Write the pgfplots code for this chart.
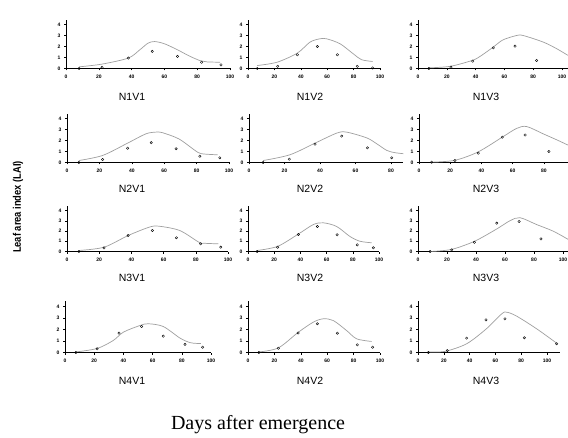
\documentclass[border=0pt]{standalone}
\usepackage{fontspec}
\setmainfont{Liberation Sans}
\newfontfamily\seriffont{Liberation Serif}
\usepackage{graphicx}
\usepackage{pgfplots}
\pgfplotsset{compat=1.18}

\pgfplotsset{
  panel/.style={
    axis lines=left, axis line style={-, line width=0.6pt},
    anchor=south west,
    xmin=0, ymin=0, ymax=4.45,
    ytick={0,1,2,3,4}, xtick={0,20,...,100},
    tick align=outside, major tick length=2pt,
    tick style={line width=0.5pt, black},
    ticklabel style={font=\fontsize{5}{5}\selectfont\bfseries},
    xticklabel style={yshift=-1pt},
    /pgf/number format/assume math mode=true,
  },
  fit/.style={draw=gray!75, line width=0.7pt, smooth, tension=0.5, no markers},
  obs/.style={only marks, mark=o, mark size=1.2pt, black, mark options={line width=0.4pt}},
}

\begin{document}
\begin{tikzpicture}
\useasboundingbox (0pt,0pt) rectangle (568pt,437pt);

% row 1
\begin{axis}[panel, at={(66pt,368.5pt)}, x=1.64pt, y=11pt, xmax=100]
\addplot[fit] coordinates {(8,0.15)(22,0.4)(38,0.95)(45,1.7)(50,2.3)(54,2.45)(60,2.25)(68,1.7)(75,1.15)(82,0.7)(86,0.6)(94,0.57)};
\addplot[obs] coordinates {(8,0)(22,0.1)(38,0.95)(52.6,1.55)(68,1.1)(82.7,0.57)(94.5,0.33)};
\end{axis}
\begin{axis}[panel, at={(248pt,368.5pt)}, x=1.32pt, y=11pt, xmax=100]
\addplot[fit] coordinates {(7,0.27)(22,0.57)(37.4,1.4)(47,2.4)(54.5,2.7)(59.5,2.7)(69.7,2.25)(79.8,1.33)(86,0.8)(94.4,0.64)};
\addplot[obs] coordinates {(7,0)(22.5,0.2)(37.4,1.25)(52.5,2.0)(67.7,1.25)(82.8,0.2)(94.4,0.05)};
\end{axis}
\begin{axis}[panel, at={(418pt,368.5pt)}, x=1.44pt, y=11pt, xmax=104]
\addplot[fit] coordinates {(7.6,0.06)(22.5,0.2)(38,0.75)(44,1.18)(52.3,1.95)(59,2.6)(68.5,3.0)(73,3.0)(87,2.4)(96.3,1.8)(104,1.2)};
\addplot[obs] coordinates {(7.6,0)(22.9,0.12)(38,0.67)(52.3,1.88)(67.4,2.03)(82.4,0.73)};
\end{axis}

% row 2
\begin{axis}[panel, at={(67pt,274.5pt)}, x=1.62pt, y=11pt, xmax=100]
\addplot[fit] coordinates {(7.3,0.18)(22,0.64)(37.4,1.76)(48.6,2.6)(54.7,2.76)(58.7,2.72)(69,2.15)(79,1.1)(83,0.8)(93,0.7)};
\addplot[obs] coordinates {(7.3,0)(22,0.27)(37.4,1.3)(52,1.8)(67.3,1.25)(82,0.57)(94.3,0.43)};
\end{axis}
\begin{axis}[panel, at={(249pt,274.5pt)}, x=1.775pt, y=11pt, xmax=87]
\addplot[fit] coordinates {(8,0.18)(23,0.7)(37.2,1.76)(49.4,2.67)(55,2.76)(66.3,2.24)(72,1.7)(77.6,1.1)(82,0.9)(87,0.8)};
\addplot[obs] coordinates {(8,0)(22.7,0.3)(37.2,1.67)(52.2,2.4)(66.7,1.33)(80.4,0.43)};
\end{axis}
\begin{axis}[panel, at={(419pt,274.5pt)}, x=1.56pt, y=11pt, xmax=95.5]
\addplot[fit] coordinates {(8,0.03)(23,0.2)(38,0.97)(54,2.36)(62.6,3.1)(69,3.27)(79.7,2.6)(88.3,2.06)(96,1.55)};
\addplot[obs] coordinates {(8.1,0.03)(23,0.18)(38,0.85)(53.4,2.3)(68,2.5)(83.3,1.0)};
\end{axis}

% row 3
\begin{axis}[panel, at={(67pt,185.5pt)}, x=1.61pt, y=10.25pt, xmax=100]
\addplot[fit] coordinates {(7.4,0.1)(23,0.42)(38,1.56)(51,2.37)(57,2.47)(70,2.05)(82,0.9)(85.6,0.8)(94,0.75)};
\addplot[obs] coordinates {(7.4,0)(23,0.35)(38,1.56)(53,2.05)(68,1.34)(83,0.75)(95.5,0.42)};
\end{axis}
\begin{axis}[panel, at={(248pt,185.5pt)}, x=1.31pt, y=10.25pt, xmax=100]
\addplot[fit] coordinates {(7,0.1)(22.6,0.5)(38.4,1.7)(49.9,2.63)(57.5,2.8)(67.7,2.44)(77.9,1.46)(85.5,1.0)(94.4,0.85)};
\addplot[obs] coordinates {(7,0)(22.6,0.42)(38.4,1.66)(53,2.44)(68,1.63)(83.4,0.65)(95.7,0.36)};
\end{axis}
\begin{axis}[panel, at={(418pt,185.5pt)}, x=1.45pt, y=10.25pt, xmax=104]
\addplot[fit] coordinates {(8.3,0)(23,0.2)(39,1.0)(54.3,2.2)(63.4,3.0)(70.3,3.3)(81.8,2.63)(93.3,1.98)(103.7,1.17)};
\addplot[obs] coordinates {(8.3,0)(23.2,0.16)(38.9,0.9)(54.3,2.76)(69.7,2.93)(84.8,1.23)};
\end{axis}

% row 4
\begin{axis}[panel, at={(65pt,84.5pt)}, x=1.46pt, y=11.5pt, xmax=100]
\addplot[fit] coordinates {(7.5,0.05)(22,0.35)(33,1.04)(40,1.77)(51.4,2.35)(57,2.5)(67.3,2.26)(78.8,1.25)(86,0.85)(93,0.78)};
\addplot[obs] coordinates {(7.5,0)(22,0.32)(37,1.68)(52.5,2.26)(67.3,1.42)(82.2,0.7)(94.3,0.46)};
\end{axis}
\begin{axis}[panel, at={(248pt,84.5pt)}, x=1.32pt, y=11.5pt, xmax=100]
\addplot[fit] coordinates {(8.3,0.05)(23,0.4)(38,1.75)(49.5,2.64)(57,2.93)(64.6,2.78)(74.8,1.9)(82.3,1.19)(93.7,0.96)};
\addplot[obs] coordinates {(8.3,0)(23,0.37)(38,1.7)(52.5,2.5)(67.7,1.68)(82.8,0.67)(94.4,0.46)};
\end{axis}
\begin{axis}[panel, at={(418pt,84.5pt)}, x=1.29pt, y=11.5pt, xmax=110]
\addplot[fit] coordinates {(8,0.05)(21,0.1)(37.7,0.76)(53,2.06)(65,3.37)(69,3.5)(76.5,3.16)(92,2.06)(107.5,0.81)};
\addplot[obs] coordinates {(8,0)(22.7,0.17)(37.7,1.25)(52.7,2.84)(67.4,2.93)(82.4,1.28)(107.5,0.76)};
\end{axis}

% panel titles
\begin{scope}[every node/.style={font=\fontsize{10.5}{10.5}\selectfont}]
\node at (132pt,340pt) {N1V1}; \node at (310pt,340pt) {N1V2}; \node at (486pt,340pt) {N1V3};
\node at (132pt,248pt) {N2V1}; \node at (310pt,248pt) {N2V2}; \node at (486pt,248pt) {N2V3};
\node at (132pt,159pt) {N3V1}; \node at (310pt,159pt) {N3V2}; \node at (486pt,159pt) {N3V3};
\node at (132pt,56pt)  {N4V1}; \node at (310pt,56pt)  {N4V2}; \node at (486pt,56pt)  {N4V3};
\end{scope}

\node[rotate=90, font=\fontsize{11}{11}\selectfont\bfseries] at (18pt,230pt) {\scalebox{0.85}[1]{Leaf area index (LAI)}};
\node[font=\seriffont\fontsize{20}{20}\selectfont] at (258pt,12pt) {Days after emergence};
\end{tikzpicture}
\end{document}
